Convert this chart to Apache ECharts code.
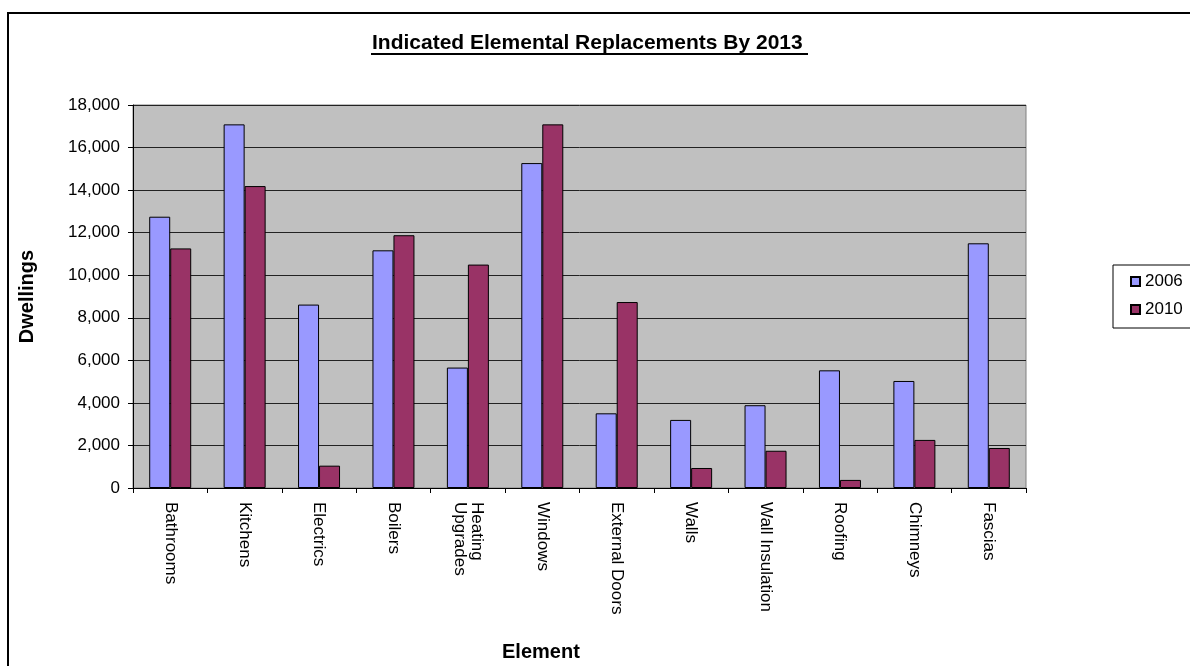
<!DOCTYPE html>
<html lang="en" style="height: 100%">
<head>
<meta charset="utf-8">
<title>Indicated Elemental Replacements By 2013</title>
</head>
<body style="height: 100%; margin: 0; background: #fff">
<div id="container" style="width: 1190px; height: 666px"></div>

<script type="text/javascript" src="https://cdn.jsdelivr.net/npm/echarts/dist/echarts.min.js"></script>

<script type="text/javascript">

// Categories along the x axis
const elements = ['Bathrooms', 'Kitchens', 'Electrics', 'Boilers', 'Heating\nUpgrades', 'Windows',
    'External Doors', 'Walls', 'Wall Insulation', 'Roofing', 'Chimneys', 'Fascias'];

// Dwellings per element
const dwellings2006 = [12750, 17090, 8620, 11170, 5660, 15270, 3510, 3200, 3890, 5530, 5030, 11500];
const dwellings2010 = [11260, 14190, 1050, 11880, 10500, 17090, 8740, 940, 1750, 380, 2260, 1880];

const seriesNames = ['2006', '2010'];

var dom = document.getElementById('container');
var myChart = echarts.init(dom);

var font = "'Liberation Sans', Arial, sans-serif";

var option = {
    animation: false,
    backgroundColor: '#ffffff',
    textStyle: { fontFamily: font },
    title: [
        {
            text: 'Indicated Elemental Replacements By 2013',
            left: 372,
            top: 33,
            padding: 0,
            textStyle: { fontSize: 21, fontWeight: 'bold', color: '#000', fontFamily: font }
        },
        {
            text: 'Element',
            left: 502,
            top: 642,
            padding: 0,
            textStyle: { fontSize: 20, fontWeight: 'bold', color: '#000', fontFamily: font }
        }
    ],
    // outer chart border and the title underline
    graphic: [
        {
            type: 'rect',
            shape: { x: 8, y: 13, width: 1250, height: 720 },
            style: { fill: 'none', stroke: '#000', lineWidth: 2 },
            silent: true
        },
        {
            type: 'line',
            shape: { x1: 371, y1: 54, x2: 808, y2: 54 },
            style: { stroke: '#000', lineWidth: 2 },
            silent: true
        }
    ],
    legend: {
        data: seriesNames,
        orient: 'vertical',
        left: 1113,
        top: 265,
        padding: [8, 40, 10, 17],
        itemGap: 11,
        itemWidth: 9,
        itemHeight: 9,
        icon: 'rect',
        borderColor: '#000',
        borderWidth: 1,
        backgroundColor: '#fff',
        textStyle: { fontSize: 17, color: '#000', fontFamily: font }
    },
    grid: {
        left: 133,
        right: 164,
        top: 105,
        bottom: 178,
        show: true,
        backgroundColor: '#C0C0C0',
        borderColor: '#808080',
        borderWidth: 1
    },
    xAxis: {
        type: 'category',
        data: elements,
        axisLine: { lineStyle: { color: '#000', width: 1 } },
        axisTick: { show: true, length: 5, inside: false, lineStyle: { color: '#000' } },
        axisLabel: {
            rotate: -90,
            margin: 14,
            interval: 0,
            fontSize: 17,
            color: '#000',
            fontFamily: font
        }
    },
    yAxis: {
        type: 'value',
        min: 0,
        max: 18000,
        interval: 2000,
        name: 'Dwellings',
        nameLocation: 'middle',
        nameGap: 96,
        nameTextStyle: { fontSize: 20, fontWeight: 'bold', color: '#000', fontFamily: font },
        axisLine: { show: true, lineStyle: { color: '#000', width: 1 } },
        axisTick: { show: true, length: 5, lineStyle: { color: '#000' } },
        axisLabel: {
            margin: 13,
            fontSize: 17,
            color: '#000',
            fontFamily: font,
            formatter: function (v) { return v.toLocaleString('en-US'); }
        },
        splitLine: { show: true, lineStyle: { color: '#222', width: 1 } }
    },
    series: [
        {
            name: seriesNames[0],
            type: 'bar',
            data: dwellings2006,
            barWidth: 21,
            barGap: '0%',
            itemStyle: { color: '#9999FF', borderColor: '#000', borderWidth: 1 }
        },
        {
            name: seriesNames[1],
            type: 'bar',
            data: dwellings2010,
            barWidth: 21,
            itemStyle: { color: '#993366', borderColor: '#000', borderWidth: 1 }
        }
    ]
};

myChart.setOption(option);
window.addEventListener('resize', myChart.resize);
</script>
</body>
</html>
